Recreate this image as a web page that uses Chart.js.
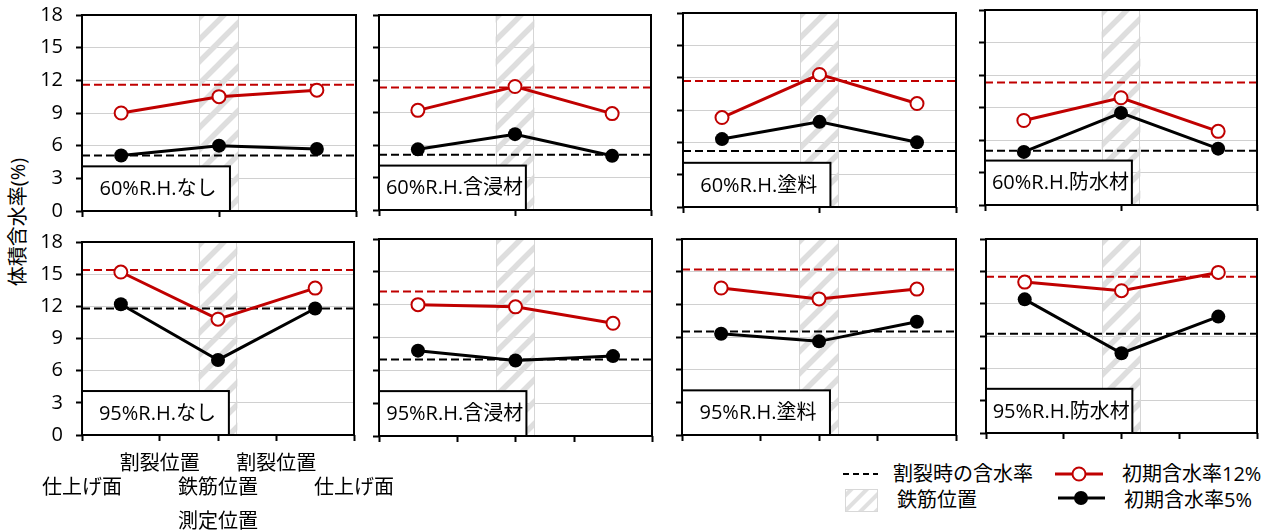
<!DOCTYPE html>
<html>
<head>
<meta charset="utf-8">
<script src="https://cdn.jsdelivr.net/npm/chart.js@4/dist/chart.umd.min.js"></script>
<style>
  html, body { margin: 0; padding: 0; background: #fff; width: 1274px; height: 531px; overflow: hidden; position: relative;
    font-family: 'Open Sans', 'Noto Sans CJK JP', sans-serif; color: #000; }
  canvas { position: absolute; }
  .t { position: absolute; font-size: 20px; line-height: 24px; white-space: nowrap; }
  svg { position: absolute; overflow: visible; }
</style>
</head>
<body>
<div id="ytitle" class="t" style="left:-62px;top:210px;width:160px;text-align:center;transform:rotate(-90deg);">体積含水率(%)</div>

<!-- legend -->
<svg style="left:0;top:0" width="1274" height="531">
  <defs>
    <pattern id="hatchSw" width="11" height="11" patternUnits="userSpaceOnUse" patternTransform="rotate(45)">
      <rect x="0" y="0" width="11" height="11" fill="#fff"/>
      <rect x="0" y="0" width="4" height="11" fill="#e0e0e0"/>
    </pattern>
  </defs>
  <line x1="843" y1="474" x2="878" y2="474" stroke="#000" stroke-width="2" stroke-dasharray="6,4"/>
  <rect x="845.5" y="489.5" width="32" height="22" fill="url(#hatchSw)" stroke="#d8d8d8" stroke-width="1"/>
  <line x1="1055" y1="474" x2="1103" y2="474" stroke="#c00000" stroke-width="3"/>
  <circle cx="1079" cy="474" r="6.5" fill="#fff" stroke="#c00000" stroke-width="2"/>
  <line x1="1058" y1="498" x2="1105" y2="498" stroke="#000" stroke-width="3"/>
  <circle cx="1081" cy="498" r="7" fill="#000"/>
</svg>
<div class="t" style="left:893px;top:462px;">割裂時の含水率</div>
<div class="t" style="left:897px;top:488px;">鉄筋位置</div>
<div class="t" style="left:1122px;top:462px;">初期含水率12%</div>
<div class="t" style="left:1124px;top:488px;">初期含水率5%</div>

<script>
// ---- data ----
const positions = [10, 35, 60];          // measuring points along the section
const rebarBand = [30, 40];              // rebar location (hatched band)
const yTicks = [0, 3, 6, 9, 12, 15, 18];
const xTicksTop = [0, 35, 70];
const xTicksBottom = [0, 20, 35, 50, 70];
const xTickLabels = { 0: ['', '仕上げ面'], 20: '割裂位置', 35: ['', '鉄筋位置'], 50: '割裂位置', 70: ['', '仕上げ面'] };
const panelNames = ['60%R.H.なし', '60%R.H.含浸材', '60%R.H.塗料', '60%R.H.防水材',
                    '95%R.H.なし', '95%R.H.含浸材', '95%R.H.塗料', '95%R.H.防水材'];
// initial moisture content 12%
const initial12 = [
  [9.0, 10.5, 11.1], [9.2, 11.4, 8.9], [8.3, 12.3, 9.6], [7.8, 9.9, 6.8],
  [15.2, 10.8, 13.7], [12.0, 11.8, 10.3], [13.5, 12.5, 13.4], [14.0, 13.2, 14.9]
];
// initial moisture content 5%
const initial5 = [
  [5.1, 6.0, 5.7], [5.6, 7.0, 5.0], [6.3, 7.9, 6.0], [4.9, 8.5, 5.2],
  [12.2, 7.0, 11.8], [7.8, 6.9, 7.3], [9.3, 8.6, 10.4], [12.4, 7.4, 10.8]
];
// moisture content at cracking
const crack12 = [11.6, 11.3, 11.7, 11.3, 15.4, 13.2, 15.2, 14.5];
const crack5 = [5.1, 5.1, 5.2, 5.0, 11.8, 7.0, 9.5, 9.2];

// ---- layout ----
const plotRects = [
  [82, 15, 356, 211], [379, 15, 651, 210], [683, 13, 956, 207], [985, 10, 1257, 205],
  [82, 242, 354, 435], [379, 239, 652, 436], [682, 239, 956, 435], [986, 239, 1257, 433]
];
const YW = 82, PT = 40, PR = 60, XH = 100;
const FONT = "'Open Sans', 'Noto Sans CJK JP', sans-serif";
const RED = '#c00000';
const BOX_RIGHT = 37.8, BOX_TOP = 4.1;

// diagonal hatch for the rebar band
const tile = document.createElement('canvas');
tile.width = tile.height = 22;
(() => {
  const c = tile.getContext('2d');
  c.strokeStyle = '#dedede';
  c.lineWidth = 5.5;
  c.beginPath();
  c.moveTo(-6, 28); c.lineTo(28, -6);
  c.moveTo(-6, 6); c.lineTo(6, -6);
  c.moveTo(16, 28); c.lineTo(28, 16);
  c.stroke();
})();

const panelDecor = {
  id: 'panelDecor',
  beforeDatasetsDraw(chart, args, opts) {
    const { ctx, chartArea: a, scales: { x, y } } = chart;
    ctx.save();
    const x0 = x.getPixelForValue(rebarBand[0]);
    const x1 = x.getPixelForValue(rebarBand[1]);
    ctx.fillStyle = ctx.createPattern(tile, 'repeat');
    ctx.fillRect(x0, a.top, x1 - x0, a.bottom - a.top);
    ctx.strokeStyle = '#d6d6d6';
    ctx.lineWidth = 1;
    ctx.beginPath();
    ctx.moveTo(Math.round(x0) + 0.5, a.top); ctx.lineTo(Math.round(x0) + 0.5, a.bottom);
    ctx.moveTo(Math.round(x1) - 0.5, a.top); ctx.lineTo(Math.round(x1) - 0.5, a.bottom);
    ctx.stroke();

    // condition label box
    const bx0 = x.getPixelForValue(0), bx1 = x.getPixelForValue(BOX_RIGHT);
    const by0 = y.getPixelForValue(BOX_TOP), by1 = y.getPixelForValue(0);
    ctx.fillStyle = '#fff';
    ctx.fillRect(bx0, by0, bx1 - bx0, by1 - by0);
    ctx.strokeStyle = '#000';
    ctx.lineWidth = 2;
    ctx.strokeRect(bx0, by0, bx1 - bx0, by1 - by0);
    ctx.fillStyle = '#000';
    ctx.font = '20px ' + FONT;
    ctx.textAlign = 'center';
    ctx.textBaseline = 'middle';
    ctx.fillText(opts.name, (bx0 + bx1) / 2 + 2, (by0 + by1) / 2 + 1);
    ctx.restore();
  },
  afterDraw(chart) {
    const { ctx, chartArea: a } = chart;
    ctx.save();
    ctx.strokeStyle = '#000';
    ctx.lineWidth = 2;
    ctx.strokeRect(a.left, a.top, a.right - a.left, a.bottom - a.top);
    ctx.restore();
  }
};

plotRects.forEach((r, k) => {
  const [L, T, R, B] = r;
  const bottomRow = k >= 4;
  const showY = k === 0 || k === 4;
  const showX = k === 4;
  const cv = document.createElement('canvas');
  const W = YW + (R - L) + PR, H = PT + (B - T) + XH;
  cv.width = W; cv.height = H;
  cv.style.left = (L - YW) + 'px';
  cv.style.top = (T - PT) + 'px';
  cv.style.width = W + 'px'; cv.style.height = H + 'px';
  document.body.appendChild(cv);

  new Chart(cv, {
    type: 'line',
    data: {
      datasets: [
        { data: positions.map((p, i) => ({ x: p, y: initial12[k][i] })),
          borderColor: RED, borderWidth: 3, pointRadius: 6.5, pointBorderWidth: 2,
          pointBackgroundColor: '#fff', pointBorderColor: RED },
        { data: positions.map((p, i) => ({ x: p, y: initial5[k][i] })),
          borderColor: '#000', borderWidth: 3, pointRadius: 7, pointBorderWidth: 0,
          pointBackgroundColor: '#000', pointBorderColor: '#000' },
        { data: [{ x: 0, y: crack12[k] }, { x: 70, y: crack12[k] }],
          borderColor: RED, borderWidth: 2, borderDash: [8, 4], pointRadius: 0 },
        { data: [{ x: 0, y: crack5[k] }, { x: 70, y: crack5[k] }],
          borderColor: '#000', borderWidth: 2, borderDash: [8, 4], pointRadius: 0 }
      ]
    },
    options: {
      responsive: false,
      animation: false,
      devicePixelRatio: 1,
      events: [],
      layout: { padding: { top: PT, right: PR, left: 0, bottom: 0 } },
      elements: { line: { tension: 0 } },
      plugins: { legend: { display: false }, tooltip: { enabled: false }, panelDecor: { name: panelNames[k] } },
      scales: {
        x: {
          type: 'linear', min: 0, max: 70,
          afterBuildTicks: s => { s.ticks = (bottomRow ? xTicksBottom : xTicksTop).map(v => ({ value: v })); },
          afterFit: s => { s.height = XH; },
          grid: { drawOnChartArea: false, drawTicks: true, tickColor: '#000', tickLength: 6, tickWidth: 2 },
          border: { display: false },
          ticks: { display: showX, autoSkip: false, maxRotation: 0, minRotation: 0, padding: 11, color: '#000',
                   font: { family: FONT, size: 20 }, callback: v => xTickLabels[v] },
          title: { display: showX, text: '測定位置', color: '#000', font: { family: FONT, size: 20 },
                   padding: { top: 0, bottom: 1 } }
        },
        y: {
          min: 0, max: 18,
          afterBuildTicks: s => { s.ticks = yTicks.map(v => ({ value: v })); },
          afterFit: s => { s.width = YW; },
          grid: { color: '#d0d0d0', lineWidth: 1, drawTicks: true, tickColor: '#000', tickLength: 6, tickWidth: 2 },
          border: { display: false },
          ticks: { display: showY, padding: 13, color: '#000', font: { family: FONT, size: 20 } }
        }
      }
    },
    plugins: [panelDecor]
  });
});
</script>
</body>
</html>
